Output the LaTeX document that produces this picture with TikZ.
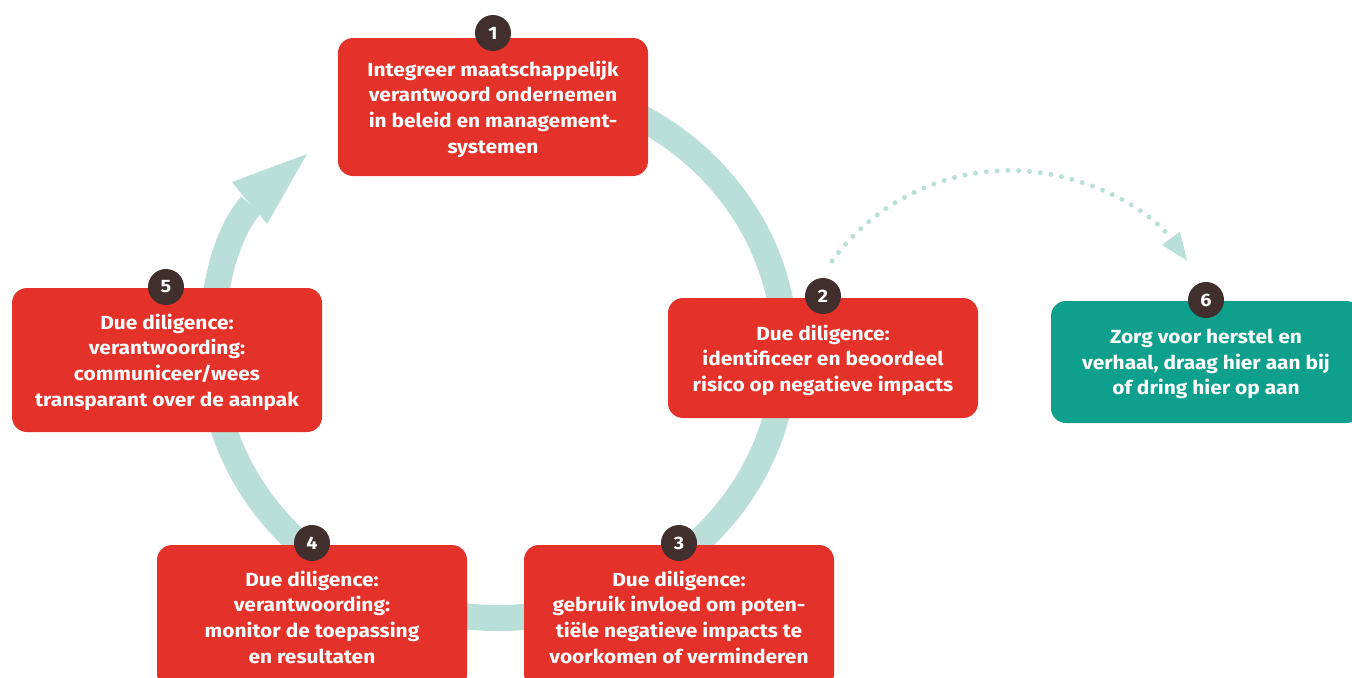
\documentclass[tikz,border=0pt]{standalone}
\usepackage{fontspec}
\setmainfont{Fira Sans}[FakeStretch=1.1]
\usetikzlibrary{arrows.meta}
\definecolor{boxred}{HTML}{E4322B}
\definecolor{boxteal}{HTML}{0FA08D}
\definecolor{ringcol}{HTML}{B9DFD8}
\definecolor{badgecol}{HTML}{402F2D}
\begin{document}
\begin{tikzpicture}[x=0.5pt,y=-0.5pt,
  box/.style={rectangle, rounded corners=7.5pt, fill=boxred, text=white,
    font=\bfseries\fontsize{9.5pt}{12.8pt}\selectfont, align=center,
    minimum width=155pt, inner sep=0pt, text depth=0pt},
  badge/.style={circle, fill=badgecol, text=white,
    font=\bfseries\fontsize{9pt}{10pt}\selectfont, minimum size=18pt, inner sep=0pt},
  band/.style={draw=ringcol, line width=13pt},
  dots/.style={draw=ringcol, line width=2.5pt, line cap=round,
    dash pattern=on 0pt off 5.4pt},
]
\clip (0,0) rectangle (1352,677);

% the cycle: a wide band running clockwise round the five steps
\draw[band] (498,82) arc[start angle=-90, end angle=180, x radius=287, y radius=268]
  .. controls (212,290) and (225,235) .. (251,205);
\fill[ringcol] (307,154) -- (232,182) -- (243,196) -- (259,214) -- (267,224) -- cycle;

% dotted link from step 2 to step 6
\coordinate (d2) at (832,261);
\coordinate (d6) at (1187,263);
\draw[dots, -{Triangle[length=14pt,width=10.5pt]}] (d2) arc[start angle=-144, end angle=-36, radius=219.6];

% steps
\node[box, minimum height=69pt] (s1) at (493,107)
  {Integreer maatschappelijk\\verantwoord ondernemen\\in beleid en management-\\systemen};
\node[box, minimum height=60pt] (s2) at (823,358)
  {Due diligence:\\identificeer en beoordeel\\risico op negatieve impacts};
\node[box, minimum height=72pt] (s3) at (679,617)
  {Due diligence:\\gebruik invloed om poten-\\tiële negatieve impacts te\\voorkomen of verminderen};
\node[box, minimum height=72pt] (s4) at (312,617)
  {Due diligence:\\verantwoording:\\monitor de toepassing\\en resultaten};
\node[box, minimum height=72pt] (s5) at (167,360)
  {Due diligence:\\verantwoording:\\communiceer/wees\\transparant over de aanpak};
\node[box, fill=boxteal, minimum height=61pt] (s6) at (1206,362)
  {Zorg voor herstel en\\verhaal, draag hier aan bij\\of dring hier op aan};

% numbered badges
\node[badge] (n1) at (493,33) {1};
\node[badge] (n2) at (823,296) {2};
\node[badge] (n3) at (679,543) {3};
\node[badge] (n4) at (312,543) {4};
\node[badge] (n5) at (166,287) {5};
\node[badge] (n6) at (1206,300) {6};
\end{tikzpicture}
\end{document}
